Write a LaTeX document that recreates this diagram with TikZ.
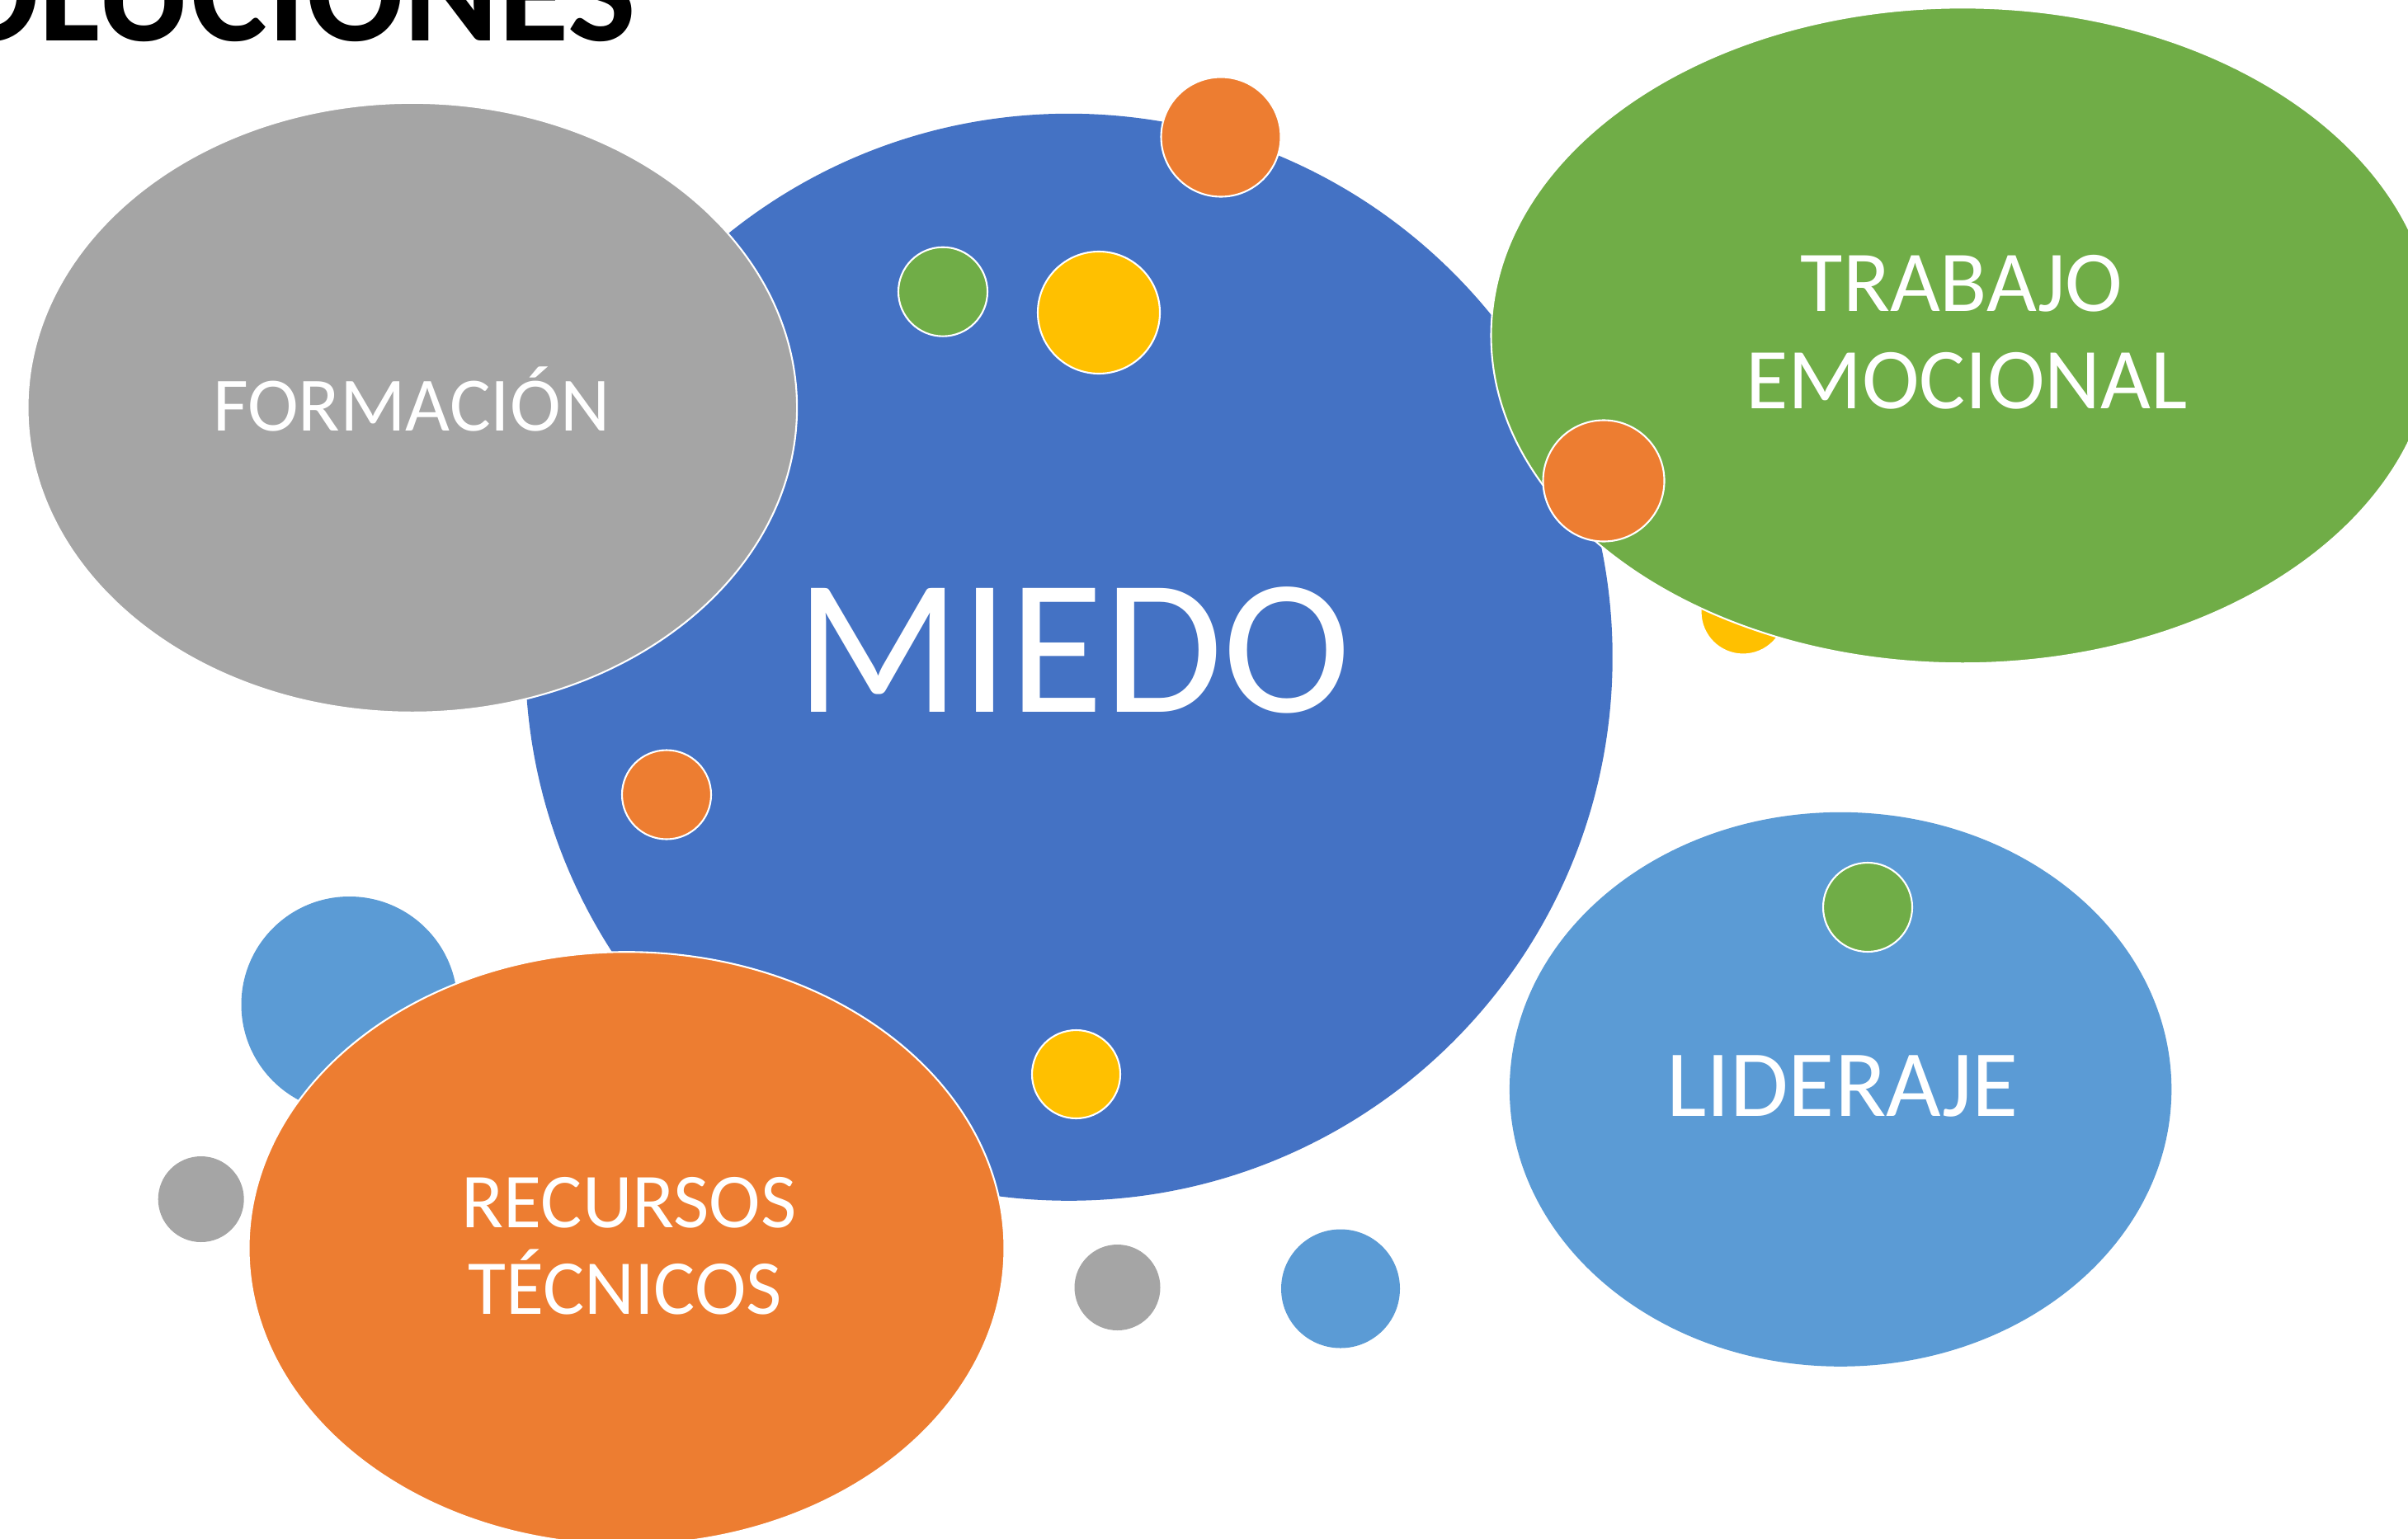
\documentclass[tikz,border=0pt]{standalone}
\usepackage{fontspec}
\setmainfont{Carlito}
\usetikzlibrary{shapes.geometric}
\definecolor{cblue}{HTML}{4472C4}
\definecolor{cgray}{HTML}{A5A5A5}
\definecolor{cgreen}{HTML}{70AD47}
\definecolor{corange}{HTML}{ED7D31}
\definecolor{cyellow}{HTML}{FFC000}
\definecolor{clblue}{HTML}{5B9BD5}
\tikzset{
  bubble/.style={circle, inner sep=0pt, draw=white, line width=0.6pt},
  oval/.style={ellipse, inner sep=0pt, draw=white, line width=0.6pt},
  lbl/.style={text=white, inner sep=0pt, anchor=base},
}
\begin{document}
\begin{tikzpicture}
\useasboundingbox (0,0) rectangle (29.19,-18.65);
\begin{scope}
\clip (0,0) rectangle (29.19,-18.65);
% title
\node[inner sep=0pt, anchor=base west, font=\fontsize{49.8}{55}\selectfont\bfseries] (title) at (-1.54,-0.50) {SOLUCIONES};
% background bubbles
\node[bubble, fill=clblue, draw=none, minimum size=2.62cm] (lb1) at (4.235,-12.18) {};
\node[bubble, fill=cyellow, minimum size=1.03cm] (y3) at (21.13,-7.42) {};
% main circle
\node[bubble, fill=cblue, draw=none, minimum size=13.18cm] (miedo) at (12.957,-7.968) {};
% ellipses
\node[oval, fill=cgray, minimum width=9.326cm, minimum height=7.39cm] (form) at (4.998,-4.943) {};
\node[oval, fill=cgreen, minimum width=11.43cm, minimum height=7.95cm] (trab) at (23.79,-4.068) {};
\node[oval, fill=corange, minimum width=9.16cm, minimum height=7.186cm] (recu) at (7.595,-15.135) {};
\node[oval, fill=clblue, draw=none, minimum width=8.024cm, minimum height=6.72cm] (lide) at (22.311,-13.208) {};
% small bubbles
\node[bubble, fill=corange, minimum size=1.45cm] (o1) at (14.80,-1.66) {};
\node[bubble, fill=cyellow, minimum size=1.48cm] (y1) at (13.32,-3.79) {};
\node[bubble, fill=cgreen, minimum size=1.08cm] (g1) at (11.43,-3.537) {};
\node[bubble, fill=corange, minimum size=1.47cm] (o2) at (19.44,-5.83) {};
\node[bubble, fill=corange, minimum size=1.08cm] (o3) at (8.08,-9.635) {};
\node[bubble, fill=cyellow, minimum size=1.07cm] (y2) at (13.045,-13.025) {};
\node[bubble, fill=cgray, draw=none, minimum size=1.04cm] (gr1) at (2.437,-14.54) {};
\node[bubble, fill=cgray, draw=none, minimum size=1.04cm] (gr2) at (13.545,-15.61) {};
\node[bubble, fill=clblue, draw=none, minimum size=1.44cm] (lb2) at (16.25,-15.625) {};
\node[bubble, fill=cgreen, minimum size=1.08cm] (g2) at (22.64,-11.0) {};
% labels
\node[lbl, font=\fontsize{26.5}{30}\selectfont] (tform) at (4.99,-5.22) {FORMACIÓN};
\node[lbl, font=\fontsize{66.6}{75}\selectfont] (tmiedo) at (13.01,-8.635) {MIEDO};
\node[lbl, font=\fontsize{29.9}{34}\selectfont] (ttrab1) at (23.78,-3.77) {TRABAJO};
\node[lbl, font=\fontsize{29.9}{34}\selectfont] (ttrab2) at (23.84,-4.95) {EMOCIONAL};
\node[lbl, font=\fontsize{32.7}{37}\selectfont] (tlide) at (22.335,-13.53) {LIDERAJE};
\node[lbl, font=\fontsize{26.8}{30}\selectfont] (trecu1) at (7.625,-14.88) {RECURSOS};
\node[lbl, font=\fontsize{26.8}{30}\selectfont] (trecu2) at (7.575,-15.93) {TÉCNICOS};
\end{scope}
\end{tikzpicture}
\end{document}
